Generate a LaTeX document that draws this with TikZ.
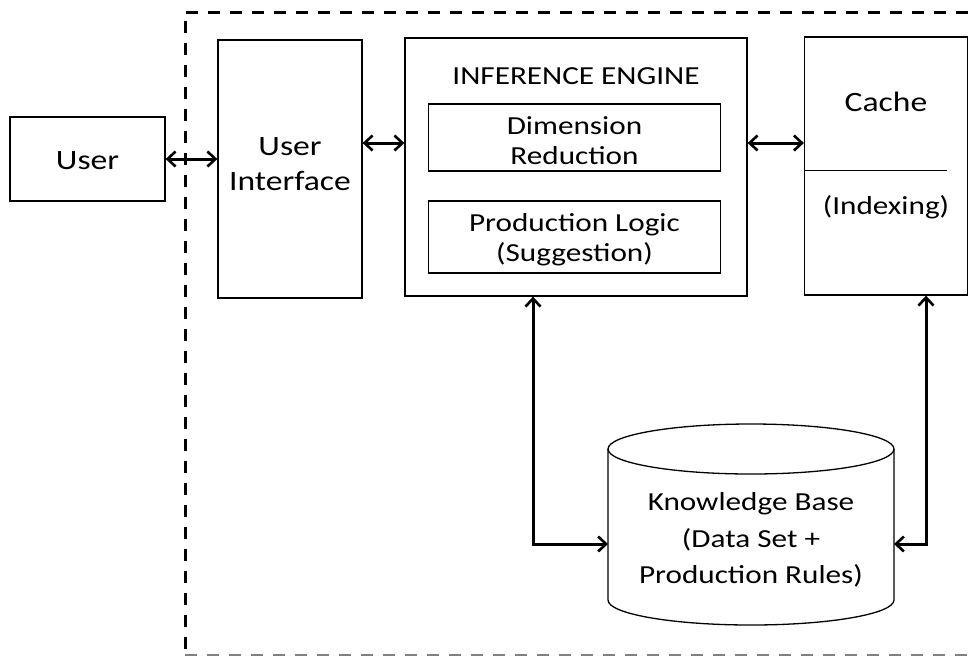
\documentclass[tikz,border=0pt]{standalone}
\usepackage{fontspec}
\setmainfont[FakeStretch=1.2]{Carlito}
\usetikzlibrary{arrows.meta}

\begin{document}
\begin{tikzpicture}[x=1pt,y=-1pt,
    box/.style={draw, line width=1.3pt, inner sep=0pt},
    txt/.style={inner sep=0pt, align=center},
    big/.style={font=\fontsize{28}{35}\selectfont},
    small/.style={font=\fontsize{26}{30}\selectfont},
    link/.style={line width=3pt, {Straight Barb[length=8pt, width=15pt, line width=2.6pt]}-{Straight Barb[length=8pt, width=15pt, line width=2.6pt]}}]
  \useasboundingbox (0,0) rectangle (974,657);
  % system boundary
  \draw[line width=3pt, dash pattern=on 12pt off 10pt] (990,12) -- (185,12) -- (185,655);
  \draw[line width=1.5pt, gray, dash pattern=on 12pt off 10pt] (185,655) -- (990,655);
  \draw
    (87.5,159) node[box, minimum width=155pt, minimum height=84pt] (user){}
    (87.5,161) node[txt, big] (usertext){User}
    (290,169) node[box, minimum width=144pt, minimum height=258pt] (ui){}
    (290,164) node[txt, big] (uitext){User\\Interface}
    (576,167) node[box, minimum width=342pt, minimum height=258pt] (ie){}
    (576,76) node[txt, small] (ietitle){INFERENCE ENGINE}
    (574.5,137.5) node[box, minimum width=292pt, minimum height=67pt] (dimred){}
    (574.5,141) node[txt, small] (dimredtext){Dimension\\Reduction}
    (574.5,237) node[box, minimum width=292pt, minimum height=72pt] (prodlogic){}
    (574.5,240) node[txt, small] (prodlogictext){Production Logic\\(Suggestion)}
    (886,166) node[box, minimum width=163pt, minimum height=258pt] (cache){}
    (886,102) node[txt, big] (cachetitle){Cache}
    (886,207) node[txt, small] (indexing){(Indexing)}
    (751,540) node[txt, font=\fontsize{26}{36.5}\selectfont] (kb){Knowledge Base\\(Data Set +\\Production Rules)};
  \draw[line width=1pt] (805,170) -- (947,170);
  % knowledge base cylinder
  \draw[line width=1.3pt] (608,449) -- (608,600)
    arc[start angle=180, end angle=360, x radius=143pt, y radius=25pt] -- (894,449);
  \draw[line width=1.3pt] (751,449) ellipse [x radius=143pt, y radius=25pt];
  \coordinate (kbleft) at (608,544);
  \coordinate (kbright) at (894,544);
  \draw[link] (user.east) -- (ui.west |- user.east);
  \draw[link] ([yshift=26pt]ui.east) -- ([yshift=26pt]ui.east -| ie.west);
  \draw[link] ([yshift=24pt]ie.east) -- ([yshift=24pt]ie.east -| cache.west);
  \draw[link] ([xshift=-43pt]ie.south) |- (kbleft);
  \draw[link] ([xshift=40pt]cache.south) |- (kbright);
\end{tikzpicture}
\end{document}
